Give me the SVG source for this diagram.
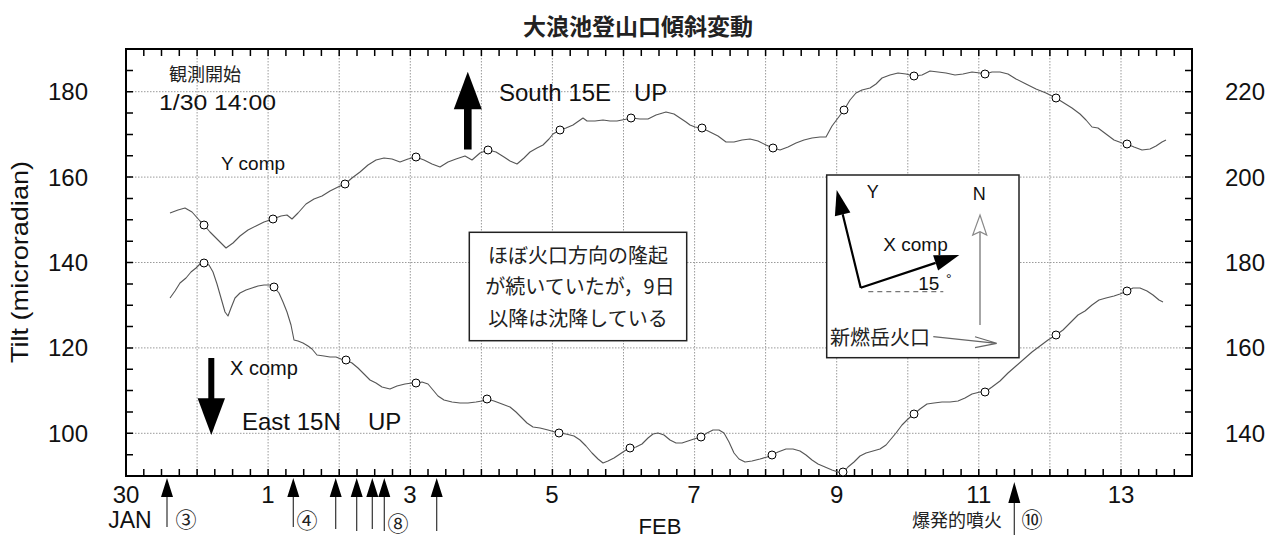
<svg xmlns="http://www.w3.org/2000/svg" width="1274" height="537" viewBox="0 0 1274 537">
<style>
.t{font-family:"Liberation Sans","Noto Sans CJK JP",sans-serif;fill:#111}
.j{font-family:"Noto Sans CJK JP","Liberation Sans",sans-serif;fill:#222}
.ax{font-size:24px}
.grid{stroke:#9a9a9a;stroke-width:1;stroke-dasharray:1.5 1.5;fill:none}
.tick{stroke:#000;stroke-width:1.5;fill:none}
.curve{stroke:#555;stroke-width:1.1;fill:none;stroke-linejoin:round}
.mk{fill:#fff;stroke:#000;stroke-width:1}
.ev{stroke:#333;stroke-width:1.2}
</style>
<rect width="1274" height="537" fill="#fff"/>
<text class="j" x="638" y="35" font-size="23" font-weight="bold" text-anchor="middle" fill="#000">大浪池登山口傾斜変動</text>

<g id="grid">
<path class="grid" d="M197.1 49V476M268.1 49V476M339.2 49V476M410.3 49V476M481.4 49V476M552.4 49V476M623.5 49V476M694.6 49V476M765.6 49V476M836.7 49V476M907.8 49V476M978.8 49V476M1049.9 49V476M1121 49V476"/>
<path class="grid" d="M126 433.3H1192M126 347.9H1192M126 262.5H1192M126 177.1H1192M126 91.7H1192"/>
</g>

<g id="axes">
<path class="tick" d="M143.8 476v-7M161.5 476v-7M179.3 476v-7M197.1 476v-7M214.8 476v-7M232.6 476v-7M250.4 476v-7M268.1 476v-7M285.9 476v-7M303.7 476v-7M321.4 476v-7M339.2 476v-7M357 476v-7M374.7 476v-7M392.5 476v-7M410.3 476v-7M428 476v-7M445.8 476v-7M463.6 476v-7M481.4 476v-7M499.1 476v-7M516.9 476v-7M534.7 476v-7M552.4 476v-7M570.2 476v-7M588 476v-7M605.7 476v-7M623.5 476v-7M641.3 476v-7M659 476v-7M676.8 476v-7M694.6 476v-7M712.3 476v-7M730.1 476v-7M747.9 476v-7M765.6 476v-7M783.4 476v-7M801.2 476v-7M818.9 476v-7M836.7 476v-7M854.5 476v-7M872.2 476v-7M890 476v-7M907.8 476v-7M925.5 476v-7M943.3 476v-7M961.1 476v-7M978.8 476v-7M996.6 476v-7M1014.4 476v-7M1032.1 476v-7M1049.9 476v-7M1067.7 476v-7M1085.4 476v-7M1103.2 476v-7M1121 476v-7M1138.7 476v-7M1156.5 476v-7M1174.3 476v-7"/>
<path class="tick" d="M143.8 49v7M161.5 49v7M179.3 49v7M197.1 49v7M214.8 49v7M232.6 49v7M250.4 49v7M268.1 49v7M285.9 49v7M303.7 49v7M321.4 49v7M339.2 49v7M357 49v7M374.7 49v7M392.5 49v7M410.3 49v7M428 49v7M445.8 49v7M463.6 49v7M481.4 49v7M499.1 49v7M516.9 49v7M534.7 49v7M552.4 49v7M570.2 49v7M588 49v7M605.7 49v7M623.5 49v7M641.3 49v7M659 49v7M676.8 49v7M694.6 49v7M712.3 49v7M730.1 49v7M747.9 49v7M765.6 49v7M783.4 49v7M801.2 49v7M818.9 49v7M836.7 49v7M854.5 49v7M872.2 49v7M890 49v7M907.8 49v7M925.5 49v7M943.3 49v7M961.1 49v7M978.8 49v7M996.6 49v7M1014.4 49v7M1032.1 49v7M1049.9 49v7M1067.7 49v7M1085.4 49v7M1103.2 49v7M1121 49v7M1138.7 49v7M1156.5 49v7M1174.3 49v7"/>
<path class="tick" d="M126 454.7h7M126 433.3h7M126 412h7M126 390.6h7M126 369.3h7M126 347.9h7M126 326.6h7M126 305.2h7M126 283.9h7M126 262.5h7M126 241.2h7M126 219.8h7M126 198.5h7M126 177.1h7M126 155.8h7M126 134.4h7M126 113.1h7M126 91.7h7M126 70.4h7"/>
<path class="tick" d="M1192 454.7h-7M1192 433.3h-7M1192 412h-7M1192 390.6h-7M1192 369.3h-7M1192 347.9h-7M1192 326.6h-7M1192 305.2h-7M1192 283.9h-7M1192 262.5h-7M1192 241.2h-7M1192 219.8h-7M1192 198.5h-7M1192 177.1h-7M1192 155.8h-7M1192 134.4h-7M1192 113.1h-7M1192 91.7h-7M1192 70.4h-7"/>
<rect x="126" y="49" width="1066" height="427" fill="none" stroke="#000" stroke-width="2"/>
<g class="t ax" text-anchor="middle">
<text x="68" y="100">180</text><text x="68" y="185.6">160</text><text x="68" y="271">140</text><text x="68" y="356.4">120</text><text x="68" y="441.8">100</text>
<text x="1245" y="100">220</text><text x="1245" y="185.6">200</text><text x="1245" y="271">180</text><text x="1245" y="356.4">160</text><text x="1245" y="441.8">140</text>
<text x="126" y="503">30</text><text x="268" y="503">1</text><text x="410" y="503">3</text><text x="552" y="503">5</text><text x="694" y="503">7</text><text x="836.7" y="503">9</text><text x="978.8" y="503">11</text><text x="1121" y="503">13</text>
</g>
<text class="t" x="130" y="528" font-size="23" text-anchor="middle">JAN</text>
<text class="t" x="660" y="534" font-size="22" text-anchor="middle">FEB</text>
<text class="t" transform="translate(28 262) rotate(-90)" font-size="24" text-anchor="middle" textLength="202" lengthAdjust="spacingAndGlyphs">Tilt (microradian)</text>
</g>

<g id="connectors">
<polyline class="curve" points="170,213 178,210 185,208 192,212 200,221 204,225 210,232 218,240 226,248 233,243 240,236 248,230 256,226 264,222 273,219 281,216 287,215 292,219 298,213 306,204 314,199 322,196 330,191 338,187 345,184 352,178 360,172 368,165 376,160 384,158 392,159 400,162 408,159 416,157 424,160 432,164 440,167 448,162 456,159 465,156 472,160 480,153 488,150 496,152 504,157 510,161 517,164 524,158 530,152 537,148 543,145 549,139 553,134 560,130 566,128 573,125 583,118 587,121 595,121 603,120 610,121 617,121 627,119 631,118 640,119 648,119 656,115 666,112 674,114 680,118 686,122 690,125 695,127 702,128 710,132 718,136 726,142 734,142 742,140 750,139 758,141 766,145 773,148 780,150 788,147 796,143 804,140 812,138 820,137 826,137 832,126 838,118 844,110 850,100 856,93 862,90 870,88 876,84 882,78 890,75 898,73 906,74 914,76 922,75 930,71 938,72 946,73 955,75 963,74 972,72 980,73 985,74 992,72 1000,72 1008,74 1016,79 1026,84 1036,89 1046,93 1056,98 1064,103 1072,108 1080,114 1086,120 1092,127 1098,128 1106,134 1114,140 1122,143 1127,144 1134,147 1142,150 1150,149 1156,146 1162,142 1166,140"/>
<polyline class="curve" points="170,298 175,291 180,283 186,278 191,272 196,268 200,264 204,263 209,265 213,272 217,284 221,298 225,312 228,316 231,308 235,298 240,293 246,290 252,288 258,286 264,285 270,285 274,287 279,293 283,302 287,312 291,325 294,340 298,341 303,343 308,346 312,349 317,355 324,356 330,357 336,357 341,359 346,360 352,363 358,368 364,374 370,380 376,383 382,387 390,389 397,386 405,384 412,383 416,383 422,382 428,384 433,390 438,396 444,400 452,402 460,403 468,403 476,402 482,401 487,399 494,401 502,404 510,407 516,412 521,417 527,423 533,427 540,428 548,430 555,432 559,433 566,434 574,436 580,440 586,446 592,453 598,459 603,463 608,461 614,458 620,454 626,450 630,448 636,447 642,444 648,438 653,434 658,433 664,435 670,440 676,443 682,443 688,441 694,439 701,437 707,433 713,430 719,430 724,433 729,442 734,453 739,459 745,462 752,461 760,459 767,457 772,455 778,452 786,449 793,449 800,451 806,455 812,460 818,464 825,467 832,470 838,472 843,473 848,467 854,462 860,456 866,453 873,451 880,449 886,445 891,439 896,433 902,425 908,419 914,414 920,409 927,404 934,403 942,402 950,402 958,401 965,398 972,394 980,392 985,392 992,387 1000,381 1008,373 1016,366 1024,359 1032,352 1040,346 1048,340 1056,335 1063,330 1070,323 1078,315 1085,311 1092,305 1099,300 1106,298 1114,296 1120,294 1127,291 1133,288 1140,288 1147,291 1153,295 1159,300 1163,302"/>
<g class="mk">
<circle cx="204" cy="225" r="4"/><circle cx="273" cy="219" r="4"/><circle cx="345" cy="184" r="4"/><circle cx="416" cy="157" r="4"/><circle cx="488" cy="150" r="4"/><circle cx="560" cy="130" r="4"/><circle cx="631" cy="118" r="4"/><circle cx="702" cy="128" r="4"/><circle cx="773" cy="148" r="4"/><circle cx="844" cy="110" r="4"/><circle cx="914" cy="76" r="4"/><circle cx="985" cy="74" r="4"/><circle cx="1056" cy="98" r="4"/><circle cx="1127" cy="144" r="4"/>
<circle cx="204" cy="263" r="4"/><circle cx="274" cy="287" r="4"/><circle cx="346" cy="360" r="4"/><circle cx="416" cy="383" r="4"/><circle cx="487" cy="399" r="4"/><circle cx="559" cy="433" r="4"/><circle cx="630" cy="448" r="4"/><circle cx="701" cy="437" r="4"/><circle cx="772" cy="455" r="4"/><circle cx="843" cy="472" r="4"/><circle cx="914" cy="414" r="4"/><circle cx="985" cy="392" r="4"/><circle cx="1056" cy="335" r="4"/><circle cx="1127" cy="291" r="4"/>
</g>
<g id="events">
<path class="ev" d="M167 497V527M293.3 497V527M335.7 497V529M356.7 497V531M372.3 497V529M384.3 497V531M436.7 497V531M1014.3 502V535"/>
<path fill="#000" d="M167 478l6 19h-12zM293.3 478l6 19h-12zM335.7 478l6 19h-12zM356.7 478l6 19h-12zM372.3 478l6 19h-12zM384.3 478l6 19h-12zM436.7 478l6 19h-12zM1014.3 482l6 21h-12z"/>
</g>
</g>

<g id="labels">
<text class="j" x="186" y="527" font-size="21" text-anchor="middle">③</text>
<text class="j" x="307" y="528" font-size="21" text-anchor="middle">④</text>
<text class="j" x="398" y="531" font-size="21" text-anchor="middle">⑧</text>
<text class="j" x="1032" y="527" font-size="21" text-anchor="middle">⑩</text>
<text class="j" x="957" y="527" font-size="18" text-anchor="middle" fill="#333">爆発的噴火</text>
<text class="j" x="205" y="81" font-size="18" text-anchor="middle">観測開始</text>
<text class="t" x="159" y="110" font-size="22" textLength="117" lengthAdjust="spacingAndGlyphs">1/30 14:00</text>
<text class="t" x="221" y="170" font-size="19">Y comp</text>
<text class="t" x="230" y="375" font-size="20">X comp</text>
<text class="t" x="499" y="101" font-size="24">South 15E</text>
<text class="t" x="634" y="101" font-size="24">UP</text>
<text class="t" x="242" y="430" font-size="24">East 15N</text>
<text class="t" x="368" y="430" font-size="24">UP</text>
</g>

<g id="arrow-south">
<rect x="464" y="108" width="7.6" height="41.5" fill="#000"/>
<path d="M467.8 71.7L481.8 109.3H453.8Z" fill="#000"/>
</g>
<g id="arrow-east">
<rect x="208.3" y="358" width="6" height="41" fill="#000"/>
<path d="M197.6 398.3H225L211.3 435Z" fill="#000"/>
</g>

<g id="note">
<rect x="469.3" y="232.3" width="217.4" height="108.4" fill="#fff" stroke="#222" stroke-width="1.5"/>
<g class="j" font-size="20" text-anchor="middle" fill="#333">
<text x="578" y="263">ほぼ火口方向の隆起</text>
<text x="580" y="294">が続いていたが，9日</text>
<text x="578" y="326">以降は沈降している</text>
</g>
</g>

<g id="inset">
<rect x="826.7" y="175" width="192.3" height="182.7" fill="#fff" stroke="#222" stroke-width="1.5"/>
<path d="M860.7 287.7L842.7 214.3M860.7 287.7L935.6 262.9" stroke="#000" stroke-width="2.2" fill="none"/>
<path d="M836.7 190L850.4 212.4L834.9 216.2Z" fill="#000"/>
<path d="M959.3 255L938.1 270.5L933.1 255.3Z" fill="#000"/>
<path d="M868.3 291.7H943.3" stroke="#777" stroke-width="1.3" stroke-dasharray="5 4"/>
<path d="M980 325V232" stroke="#888" stroke-width="1.5"/>
<path d="M980 215L986.7 235L980 231.7L972.7 235Z" fill="#fff" stroke="#888" stroke-width="1.2"/>
<path d="M933.3 336.7L996.7 343.3M975 336.7L996.7 343.3L975 347.7" stroke="#666" stroke-width="1.2" fill="none"/>
<text class="t" x="866.7" y="198" font-size="18">Y</text>
<text class="t" x="979.3" y="200" font-size="18" text-anchor="middle">N</text>
<text class="t" x="883.3" y="251" font-size="19">X comp</text>
<text class="t" x="918.3" y="290" font-size="19">15</text>
<text class="t" x="946" y="284" font-size="14">°</text>
<text class="j" x="830" y="345" font-size="20">新燃岳火口</text>
</g>
</svg>
